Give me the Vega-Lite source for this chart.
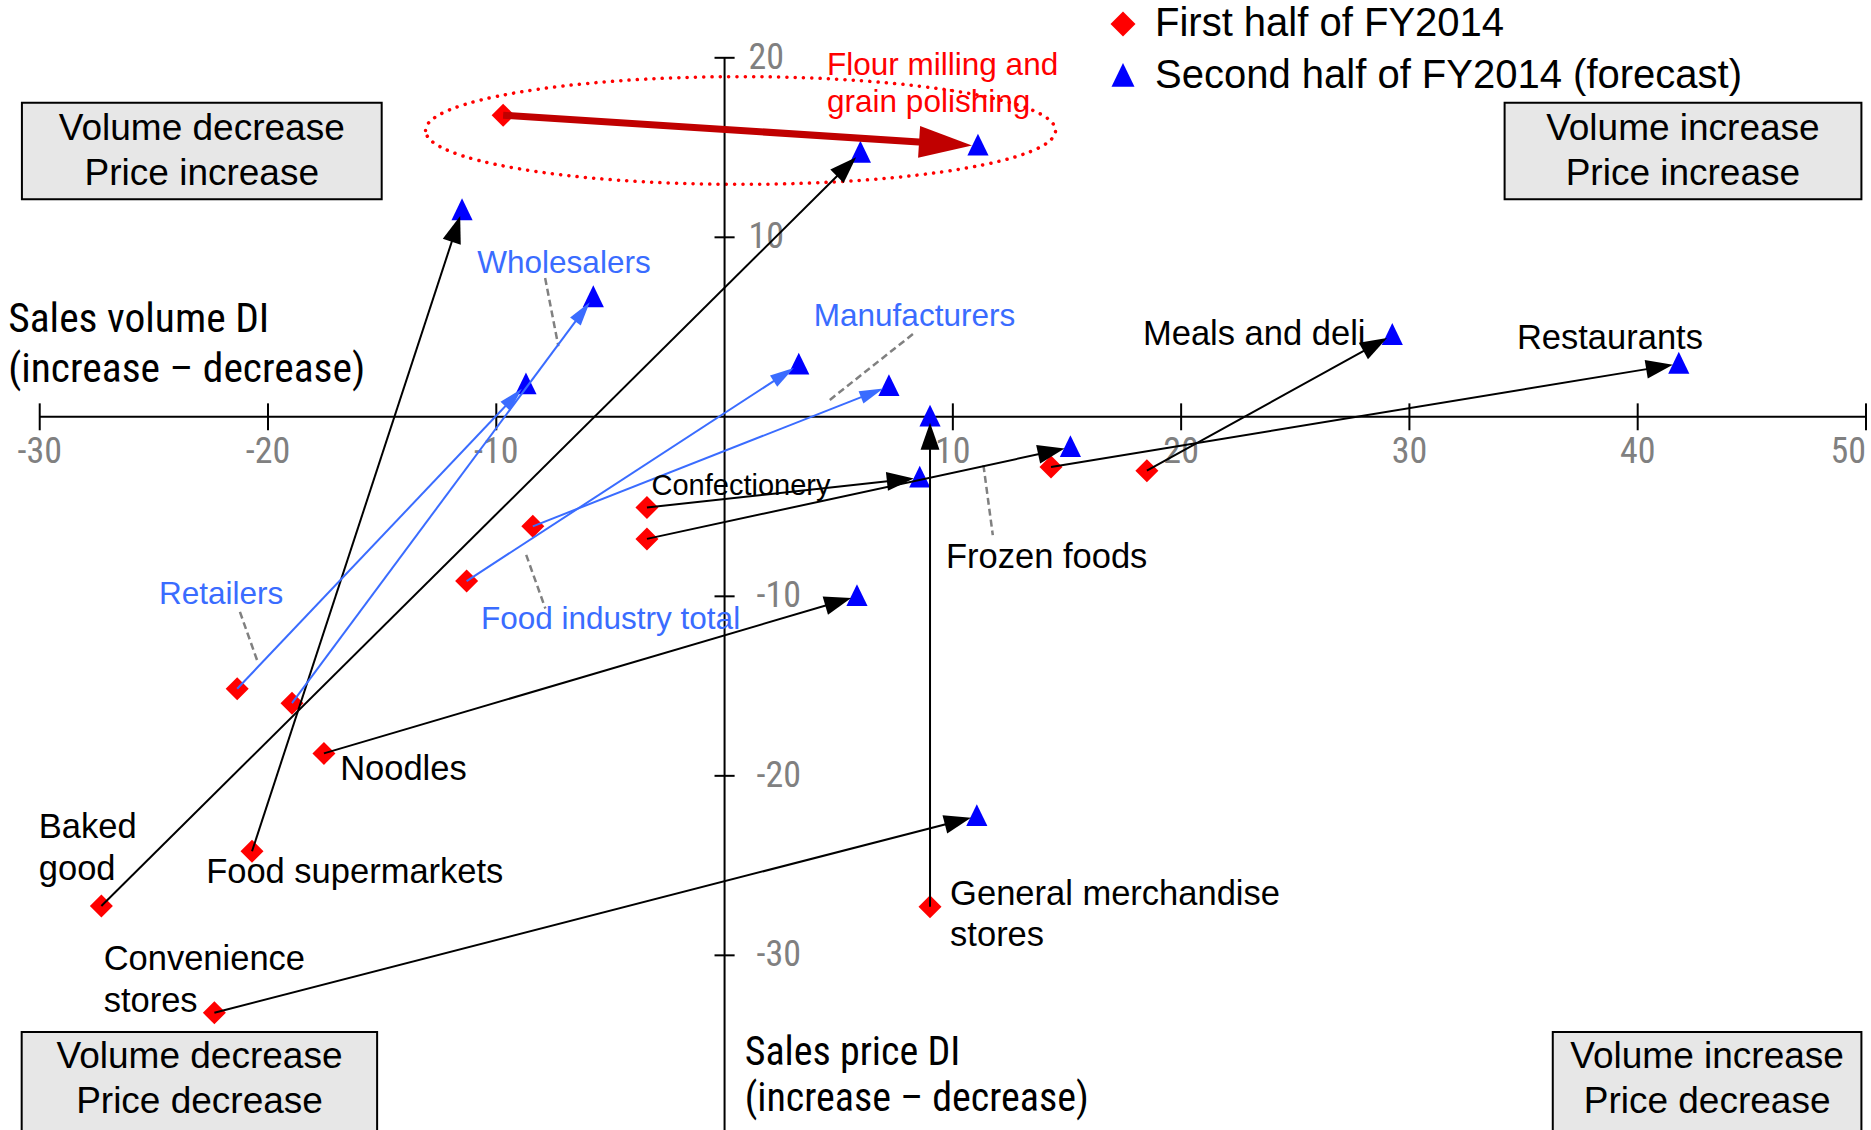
{
  "$schema": "https://vega.github.io/schema/vega-lite/v6.json",
  "width": 1871,
  "height": 1130,
  "autosize": {"type": "none"},
  "padding": 0,
  "background": "#ffffff",
  "config": {"view": {"stroke": null}, "font": "Liberation Sans"},
  "datasets": {
    "points": [
      {"category": "Flour milling and grain polishing", "tier": "focus", "period": "First half of FY2014", "volume": -9.7, "price": 16.8},
      {"category": "Flour milling and grain polishing", "tier": "focus", "period": "Second half of FY2014 (forecast)", "volume": 11.1, "price": 15.1},
      {"category": "Baked good", "tier": "industry", "period": "First half of FY2014", "volume": -27.3, "price": -27.25},
      {"category": "Baked good", "tier": "industry", "period": "Second half of FY2014 (forecast)", "volume": 5.95, "price": 14.7},
      {"category": "Food supermarkets", "tier": "industry", "period": "First half of FY2014", "volume": -20.7, "price": -24.2},
      {"category": "Food supermarkets", "tier": "industry", "period": "Second half of FY2014 (forecast)", "volume": -11.5, "price": 11.5},
      {"category": "Retailers", "tier": "aggregate", "period": "First half of FY2014", "volume": -21.35, "price": -15.15},
      {"category": "Retailers", "tier": "aggregate", "period": "Second half of FY2014 (forecast)", "volume": -8.7, "price": 1.8},
      {"category": "Wholesalers", "tier": "aggregate", "period": "First half of FY2014", "volume": -18.95, "price": -15.95},
      {"category": "Wholesalers", "tier": "aggregate", "period": "Second half of FY2014 (forecast)", "volume": -5.75, "price": 6.65},
      {"category": "Food industry total", "tier": "aggregate", "period": "First half of FY2014", "volume": -11.3, "price": -9.15},
      {"category": "Food industry total", "tier": "aggregate", "period": "Second half of FY2014 (forecast)", "volume": 3.25, "price": 2.9},
      {"category": "Manufacturers", "tier": "aggregate", "period": "First half of FY2014", "volume": -8.4, "price": -6.1},
      {"category": "Manufacturers", "tier": "aggregate", "period": "Second half of FY2014 (forecast)", "volume": 7.2, "price": 1.7},
      {"category": "Confectionery", "tier": "industry", "period": "First half of FY2014", "volume": -3.4, "price": -5.05},
      {"category": "Confectionery", "tier": "industry", "period": "Second half of FY2014 (forecast)", "volume": 8.55, "price": -3.4},
      {"category": "Frozen foods", "tier": "industry", "period": "First half of FY2014", "volume": -3.4, "price": -6.8},
      {"category": "Frozen foods", "tier": "industry", "period": "Second half of FY2014 (forecast)", "volume": 15.15, "price": -1.7},
      {"category": "Noodles", "tier": "industry", "period": "First half of FY2014", "volume": -17.55, "price": -18.75},
      {"category": "Noodles", "tier": "industry", "period": "Second half of FY2014 (forecast)", "volume": 5.8, "price": -10.0},
      {"category": "General merchandise stores", "tier": "industry", "period": "First half of FY2014", "volume": 9.0, "price": -27.3},
      {"category": "General merchandise stores", "tier": "industry", "period": "Second half of FY2014 (forecast)", "volume": 9.0, "price": 0.0},
      {"category": "Convenience stores", "tier": "industry", "period": "First half of FY2014", "volume": -22.35, "price": -33.2},
      {"category": "Convenience stores", "tier": "industry", "period": "Second half of FY2014 (forecast)", "volume": 11.05, "price": -22.25},
      {"category": "Restaurants", "tier": "industry", "period": "First half of FY2014", "volume": 14.3, "price": -2.8},
      {"category": "Restaurants", "tier": "industry", "period": "Second half of FY2014 (forecast)", "volume": 41.8, "price": 2.95},
      {"category": "Meals and deli", "tier": "industry", "period": "First half of FY2014", "volume": 18.5, "price": -3.0},
      {"category": "Meals and deli", "tier": "industry", "period": "Second half of FY2014 (forecast)", "volume": 29.25, "price": 4.55}
    ],
    "labels": [
      {"label": "Flour milling and\ngrain polishing", "tier": "focus", "volume": 4.49, "price": 19.04},
      {"label": "Wholesalers", "tier": "aggregate", "volume": -10.83, "price": 8.0},
      {"label": "Manufacturers", "tier": "aggregate", "volume": 3.91, "price": 5.07},
      {"label": "Retailers", "tier": "aggregate", "volume": -24.78, "price": -10.42},
      {"label": "Food industry total", "tier": "aggregate", "volume": -10.67, "price": -11.81},
      {"label": "Confectionery", "tier": "industry", "volume": -3.2, "price": -4.36},
      {"label": "Frozen foods", "tier": "industry", "volume": 9.7, "price": -8.43},
      {"label": "Meals and deli", "tier": "industry", "volume": 18.33, "price": 4.0},
      {"label": "Restaurants", "tier": "industry", "volume": 34.71, "price": 3.76},
      {"label": "Noodles", "tier": "industry", "volume": -16.84, "price": -20.26},
      {"label": "Baked\ngood", "tier": "industry", "volume": -30.04, "price": -23.47},
      {"label": "Food supermarkets", "tier": "industry", "volume": -22.71, "price": -25.99},
      {"label": "Convenience\nstores", "tier": "industry", "volume": -27.2, "price": -30.82},
      {"label": "General merchandise\nstores", "tier": "industry", "volume": 9.88, "price": -27.17}
    ],
    "titles": [
      {"axis": "volume", "label": "Sales volume DI\n(increase – decrease)", "volume": -31.38, "price": 4.72},
      {"axis": "price", "label": "Sales price DI\n(increase – decrease)", "volume": 0.88, "price": -36.1}
    ],
    "leaders": [
      {"vol_a": -7.86, "price_a": 7.73, "vol_b": -7.28, "price_b": 3.93},
      {"vol_a": 8.25, "price_a": 4.61, "vol_b": 4.49, "price_b": 0.82},
      {"vol_a": 11.34, "price_a": -2.69, "vol_b": 11.75, "price_b": -6.59},
      {"vol_a": -21.23, "price_a": -10.87, "vol_b": -20.45, "price_b": -13.66},
      {"vol_a": -8.69, "price_a": -7.69, "vol_b": -7.85, "price_b": -10.68}
    ],
    "quadrants": [
      {"label": "Volume decrease\nPrice increase", "vol_min": -30.78, "vol_max": -15.02, "price_min": 12.12, "price_max": 17.5, "vol_mid": -22.9, "price_mid": 16.04},
      {"label": "Volume increase\nPrice increase", "vol_min": 34.17, "vol_max": 49.8, "price_min": 12.12, "price_max": 17.5, "vol_mid": 41.98, "price_mid": 16.04},
      {"label": "Volume decrease\nPrice decrease", "vol_min": -30.79, "vol_max": -15.22, "price_min": -41.0, "price_max": -34.27, "vol_mid": -23.0, "price_mid": -35.67},
      {"label": "Volume increase\nPrice decrease", "vol_min": 36.28, "vol_max": 49.8, "price_min": -41.0, "price_max": -34.27, "vol_mid": 43.04, "price_mid": -35.67}
    ],
    "xticks": [
      {"value": -30, "label": "-30"}, {"value": -20, "label": "-20"}, {"value": -10, "label": "-10"},
      {"value": 10, "label": "10"}, {"value": 20, "label": "20"}, {"value": 30, "label": "30"},
      {"value": 40, "label": "40"}, {"value": 50, "label": "50"}
    ],
    "yticks": [
      {"value": 20, "label": "20"}, {"value": 10, "label": "10"}, {"value": -10, "label": "-10"},
      {"value": -20, "label": "-20"}, {"value": -30, "label": "-30"}
    ]
  },
  "layer": [
    {
      "data": {"name": "quadrants"},
      "mark": {"type": "rect", "fill": "#e7e7e7", "stroke": "#000000", "strokeWidth": 2},
      "encoding": {
        "x": {"field": "vol_min", "type": "quantitative", "scale": {"domain": [-31.74, 50.22], "nice": false, "zero": false}, "axis": null},
        "x2": {"field": "vol_max"},
        "y": {"field": "price_min", "type": "quantitative", "scale": {"domain": [-39.73, 23.22], "nice": false, "zero": false}, "axis": null},
        "y2": {"field": "price_max"}
      }
    },
    {
      "data": {"name": "quadrants"},
      "mark": {"type": "text", "fontSize": 37, "lineHeight": 45, "lineBreak": "\n", "align": "center", "baseline": "middle", "color": "#000000"},
      "encoding": {
        "x": {"field": "vol_mid", "type": "quantitative", "scale": {"domain": [-31.74, 50.22], "nice": false, "zero": false}, "axis": null},
        "y": {"field": "price_mid", "type": "quantitative", "scale": {"domain": [-39.73, 23.22], "nice": false, "zero": false}, "axis": null},
        "text": {"field": "label"}
      }
    },
    {
      "data": {"name": "points"},
      "transform": [{"filter": "datum.tier === 'focus'"}],
      "mark": {"type": "point", "shape": "M-1,0A1,0.171,0,1,1,1,0A1,0.171,0,1,1,-1,0Z", "size": 396900, "filled": false, "stroke": "#ff0000", "strokeWidth": 3.5, "strokeDash": [0.1, 8.2], "strokeCap": "round", "opacity": 1},
      "encoding": {
        "x": {"aggregate": "mean", "field": "volume", "type": "quantitative", "scale": {"domain": [-31.74, 50.22], "nice": false, "zero": false}, "axis": null},
        "y": {"aggregate": "mean", "field": "price", "type": "quantitative", "scale": {"domain": [-39.73, 23.22], "nice": false, "zero": false}, "axis": null}
      }
    },
    {
      "data": {"values": [{}]},
      "mark": {"type": "rule", "color": "#000000", "strokeWidth": 2},
      "encoding": {
        "x": {"datum": -30, "type": "quantitative", "scale": {"domain": [-31.74, 50.22], "nice": false, "zero": false}, "axis": null},
        "x2": {"datum": 50},
        "y": {"datum": 0, "type": "quantitative", "scale": {"domain": [-39.73, 23.22], "nice": false, "zero": false}, "axis": null}
      }
    },
    {
      "data": {"values": [{}]},
      "mark": {"type": "rule", "color": "#000000", "strokeWidth": 2},
      "encoding": {
        "x": {"datum": 0, "type": "quantitative", "scale": {"domain": [-31.74, 50.22], "nice": false, "zero": false}, "axis": null},
        "y": {"datum": 20, "type": "quantitative", "scale": {"domain": [-39.73, 23.22], "nice": false, "zero": false}, "axis": null},
        "y2": {"datum": -41}
      }
    },
    {
      "data": {"name": "xticks"},
      "mark": {"type": "rule", "color": "#000000", "strokeWidth": 2},
      "encoding": {
        "x": {"field": "value", "type": "quantitative", "scale": {"domain": [-31.74, 50.22], "nice": false, "zero": false}, "axis": null},
        "y": {"datum": 0.75, "type": "quantitative", "scale": {"domain": [-39.73, 23.22], "nice": false, "zero": false}, "axis": null},
        "y2": {"datum": -0.75}
      }
    },
    {
      "data": {"name": "yticks"},
      "mark": {"type": "rule", "color": "#000000", "strokeWidth": 2},
      "encoding": {
        "x": {"datum": -0.44, "type": "quantitative", "scale": {"domain": [-31.74, 50.22], "nice": false, "zero": false}, "axis": null},
        "x2": {"datum": 0.44},
        "y": {"field": "value", "type": "quantitative", "scale": {"domain": [-39.73, 23.22], "nice": false, "zero": false}, "axis": null}
      }
    },
    {
      "data": {"name": "xticks"},
      "transform": [{"filter": "datum.value < 50"}],
      "mark": {"type": "text", "font": "Liberation Sans Narrow, Arial Narrow, Roboto Condensed, Noto Sans Condensed, DejaVu Sans Condensed, Liberation Sans, sans-serif", "fontSize": 36, "color": "#808080", "align": "center", "baseline": "alphabetic", "dy": 46},
      "encoding": {
        "x": {"field": "value", "type": "quantitative", "scale": {"domain": [-31.74, 50.22], "nice": false, "zero": false}, "axis": null},
        "y": {"datum": 0, "type": "quantitative", "scale": {"domain": [-39.73, 23.22], "nice": false, "zero": false}, "axis": null},
        "text": {"field": "label"}
      }
    },
    {
      "data": {"name": "xticks"},
      "transform": [{"filter": "datum.value === 50"}],
      "mark": {"type": "text", "font": "Liberation Sans Narrow, Arial Narrow, Roboto Condensed, Noto Sans Condensed, DejaVu Sans Condensed, Liberation Sans, sans-serif", "fontSize": 36, "color": "#808080", "align": "right", "baseline": "alphabetic", "dy": 46},
      "encoding": {
        "x": {"field": "value", "type": "quantitative", "scale": {"domain": [-31.74, 50.22], "nice": false, "zero": false}, "axis": null},
        "y": {"datum": 0, "type": "quantitative", "scale": {"domain": [-39.73, 23.22], "nice": false, "zero": false}, "axis": null},
        "text": {"field": "label"}
      }
    },
    {
      "data": {"name": "yticks"},
      "transform": [{"filter": "datum.value > 0"}],
      "mark": {"type": "text", "font": "Liberation Sans Narrow, Arial Narrow, Roboto Condensed, Noto Sans Condensed, DejaVu Sans Condensed, Liberation Sans, sans-serif", "fontSize": 36, "color": "#808080", "align": "left", "baseline": "middle", "dx": 24},
      "encoding": {
        "x": {"datum": 0, "type": "quantitative", "scale": {"domain": [-31.74, 50.22], "nice": false, "zero": false}, "axis": null},
        "y": {"field": "value", "type": "quantitative", "scale": {"domain": [-39.73, 23.22], "nice": false, "zero": false}, "axis": null},
        "text": {"field": "label"}
      }
    },
    {
      "data": {"name": "yticks"},
      "transform": [{"filter": "datum.value < 0"}],
      "mark": {"type": "text", "font": "Liberation Sans Narrow, Arial Narrow, Roboto Condensed, Noto Sans Condensed, DejaVu Sans Condensed, Liberation Sans, sans-serif", "fontSize": 36, "color": "#808080", "align": "left", "baseline": "middle", "dx": 32},
      "encoding": {
        "x": {"datum": 0, "type": "quantitative", "scale": {"domain": [-31.74, 50.22], "nice": false, "zero": false}, "axis": null},
        "y": {"field": "value", "type": "quantitative", "scale": {"domain": [-39.73, 23.22], "nice": false, "zero": false}, "axis": null},
        "text": {"field": "label"}
      }
    },
    {
      "data": {"name": "leaders"},
      "mark": {"type": "rule", "color": "#808080", "strokeWidth": 2.5, "strokeDash": [7, 4]},
      "encoding": {
        "x": {"field": "vol_a", "type": "quantitative", "scale": {"domain": [-31.74, 50.22], "nice": false, "zero": false}, "axis": null},
        "x2": {"field": "vol_b"},
        "y": {"field": "price_a", "type": "quantitative", "scale": {"domain": [-39.73, 23.22], "nice": false, "zero": false}, "axis": null},
        "y2": {"field": "price_b"}
      }
    },
    {
      "data": {"name": "points"},
      "mark": {"type": "point", "filled": true, "opacity": 1, "size": 529, "strokeWidth": 0},
      "encoding": {
        "x": {"field": "volume", "type": "quantitative", "scale": {"domain": [-31.74, 50.22], "nice": false, "zero": false}, "axis": null},
        "y": {"field": "price", "type": "quantitative", "scale": {"domain": [-39.73, 23.22], "nice": false, "zero": false}, "axis": null},
        "color": {
          "field": "period", "type": "nominal",
          "scale": {"domain": ["First half of FY2014", "Second half of FY2014 (forecast)"], "range": ["#ff0000", "#0000ff"]},
          "legend": {"orient": "none", "legendX": 1103, "legendY": 4, "title": null, "padding": 0, "labelFont": "Liberation Sans", "labelFontSize": 40, "labelColor": "#000000", "labelLimit": 1000, "labelOffset": 12, "rowPadding": 12, "symbolSize": 625, "symbolStrokeWidth": 0, "symbolOpacity": 1}
        },
        "shape": {
          "field": "period", "type": "nominal",
          "scale": {"domain": ["First half of FY2014", "Second half of FY2014 (forecast)"], "range": ["diamond", "M0,-1.05L0.92,0.85L-0.92,0.85Z"]},
          "legend": {"orient": "none", "legendX": 1103, "legendY": 4, "title": null, "padding": 0, "labelFont": "Liberation Sans", "labelFontSize": 40, "labelColor": "#000000", "labelLimit": 1000, "labelOffset": 12, "rowPadding": 12, "symbolSize": 625, "symbolStrokeWidth": 0, "symbolOpacity": 1}
        }
      }
    },
    {
      "data": {"name": "points"},
      "transform": [
        {"window": [{"op": "lead", "field": "volume", "as": "volume2"}, {"op": "lead", "field": "price", "as": "price2"}], "groupby": ["category"], "sort": [{"field": "period", "order": "ascending"}]},
        {"filter": "isValid(datum.volume2)"},
        {"calculate": "(datum.volume2 - datum.volume) * 22.83", "as": "dxp"},
        {"calculate": "(datum.price - datum.price2) * 17.95", "as": "dyp"},
        {"calculate": "sqrt(datum.dxp * datum.dxp + datum.dyp * datum.dyp)", "as": "len"},
        {"calculate": "atan2(datum.dyp, datum.dxp) * 180 / PI", "as": "heading"},
        {"calculate": "datum.volume2 - 6 * datum.dxp / datum.len / 22.83", "as": "tip_volume"},
        {"calculate": "datum.price2 + 6 * datum.dyp / datum.len / 17.95", "as": "tip_price"},
        {"calculate": "datum.tier === 'focus' ? 36 : 14", "as": "back"},
        {"calculate": "datum.volume2 - datum.back * datum.dxp / datum.len / 22.83", "as": "end_volume"},
        {"calculate": "datum.price2 + datum.back * datum.dyp / datum.len / 17.95", "as": "end_price"}
      ],
      "layer": [
        {
          "transform": [{"filter": "datum.tier === 'industry'"}],
          "mark": {"type": "rule", "color": "#000000", "strokeWidth": 2},
          "encoding": {
            "x": {"field": "volume", "type": "quantitative", "scale": {"domain": [-31.74, 50.22], "nice": false, "zero": false}, "axis": null},
            "x2": {"field": "end_volume"},
            "y": {"field": "price", "type": "quantitative", "scale": {"domain": [-39.73, 23.22], "nice": false, "zero": false}, "axis": null},
            "y2": {"field": "end_price"}
          }
        },
        {
          "transform": [{"filter": "datum.tier === 'aggregate'"}],
          "mark": {"type": "rule", "color": "#3a6cff", "strokeWidth": 2},
          "encoding": {
            "x": {"field": "volume", "type": "quantitative", "scale": {"domain": [-31.74, 50.22], "nice": false, "zero": false}, "axis": null},
            "x2": {"field": "end_volume"},
            "y": {"field": "price", "type": "quantitative", "scale": {"domain": [-39.73, 23.22], "nice": false, "zero": false}, "axis": null},
            "y2": {"field": "end_price"}
          }
        },
        {
          "transform": [{"filter": "datum.tier === 'focus'"}],
          "mark": {"type": "rule", "color": "#c00000", "strokeWidth": 7},
          "encoding": {
            "x": {"field": "volume", "type": "quantitative", "scale": {"domain": [-31.74, 50.22], "nice": false, "zero": false}, "axis": null},
            "x2": {"field": "end_volume"},
            "y": {"field": "price", "type": "quantitative", "scale": {"domain": [-39.73, 23.22], "nice": false, "zero": false}, "axis": null},
            "y2": {"field": "end_price"}
          }
        },
        {
          "transform": [{"filter": "datum.tier === 'industry'"}],
          "mark": {"type": "point", "shape": "M0,0L-2,-0.7L-2,0.7Z", "size": 729, "filled": true, "color": "#000000", "opacity": 1, "strokeWidth": 0},
          "encoding": {
            "x": {"field": "tip_volume", "type": "quantitative", "scale": {"domain": [-31.74, 50.22], "nice": false, "zero": false}, "axis": null},
            "y": {"field": "tip_price", "type": "quantitative", "scale": {"domain": [-39.73, 23.22], "nice": false, "zero": false}, "axis": null},
            "angle": {"field": "heading", "type": "quantitative", "scale": null}
          }
        },
        {
          "transform": [{"filter": "datum.tier === 'aggregate'"}],
          "mark": {"type": "point", "shape": "M0,0L-2,-0.55L-2,0.55Z", "size": 576, "filled": true, "color": "#3a6cff", "opacity": 1, "strokeWidth": 0},
          "encoding": {
            "x": {"field": "tip_volume", "type": "quantitative", "scale": {"domain": [-31.74, 50.22], "nice": false, "zero": false}, "axis": null},
            "y": {"field": "tip_price", "type": "quantitative", "scale": {"domain": [-39.73, 23.22], "nice": false, "zero": false}, "axis": null},
            "angle": {"field": "heading", "type": "quantitative", "scale": null}
          }
        },
        {
          "transform": [{"filter": "datum.tier === 'focus'"}],
          "mark": {"type": "point", "shape": "M0,0L-2,-0.6L-2,0.6Z", "size": 2809, "filled": true, "color": "#c00000", "opacity": 1, "strokeWidth": 0},
          "encoding": {
            "x": {"field": "tip_volume", "type": "quantitative", "scale": {"domain": [-31.74, 50.22], "nice": false, "zero": false}, "axis": null},
            "y": {"field": "tip_price", "type": "quantitative", "scale": {"domain": [-39.73, 23.22], "nice": false, "zero": false}, "axis": null},
            "angle": {"field": "heading", "type": "quantitative", "scale": null}
          }
        }
      ]
    },
    {
      "data": {"name": "labels"},
      "transform": [{"filter": "datum.tier === 'industry' && datum.label !== 'Confectionery'"}],
      "mark": {"type": "text", "fontSize": 34.5, "lineHeight": 41.7, "lineBreak": "\n", "align": "left", "baseline": "alphabetic", "color": "#000000"},
      "encoding": {
        "x": {"field": "volume", "type": "quantitative", "scale": {"domain": [-31.74, 50.22], "nice": false, "zero": false}, "axis": null},
        "y": {"field": "price", "type": "quantitative", "scale": {"domain": [-39.73, 23.22], "nice": false, "zero": false}, "axis": null},
        "text": {"field": "label"}
      }
    },
    {
      "data": {"name": "labels"},
      "transform": [{"filter": "datum.label === 'Confectionery'"}],
      "mark": {"type": "text", "fontSize": 29, "align": "left", "baseline": "alphabetic", "color": "#000000"},
      "encoding": {
        "x": {"field": "volume", "type": "quantitative", "scale": {"domain": [-31.74, 50.22], "nice": false, "zero": false}, "axis": null},
        "y": {"field": "price", "type": "quantitative", "scale": {"domain": [-39.73, 23.22], "nice": false, "zero": false}, "axis": null},
        "text": {"field": "label"}
      }
    },
    {
      "data": {"name": "labels"},
      "transform": [{"filter": "datum.tier === 'aggregate'"}],
      "mark": {"type": "text", "fontSize": 31.5, "align": "left", "baseline": "alphabetic", "color": "#3a6cff"},
      "encoding": {
        "x": {"field": "volume", "type": "quantitative", "scale": {"domain": [-31.74, 50.22], "nice": false, "zero": false}, "axis": null},
        "y": {"field": "price", "type": "quantitative", "scale": {"domain": [-39.73, 23.22], "nice": false, "zero": false}, "axis": null},
        "text": {"field": "label"}
      }
    },
    {
      "data": {"name": "labels"},
      "transform": [{"filter": "datum.tier === 'focus'"}],
      "mark": {"type": "text", "fontSize": 31.5, "lineHeight": 36.7, "lineBreak": "\n", "align": "left", "baseline": "alphabetic", "color": "#ff0000"},
      "encoding": {
        "x": {"field": "volume", "type": "quantitative", "scale": {"domain": [-31.74, 50.22], "nice": false, "zero": false}, "axis": null},
        "y": {"field": "price", "type": "quantitative", "scale": {"domain": [-39.73, 23.22], "nice": false, "zero": false}, "axis": null},
        "text": {"field": "label"}
      }
    },
    {
      "data": {"name": "titles"},
      "transform": [{"filter": "datum.axis === 'volume'"}],
      "mark": {"type": "text", "font": "Liberation Sans Narrow, Arial Narrow, Roboto Condensed, Noto Sans Condensed, DejaVu Sans Condensed, Liberation Sans, sans-serif", "fontSize": 41.5, "lineHeight": 50, "lineBreak": "\n", "align": "left", "baseline": "alphabetic", "color": "#000000"},
      "encoding": {
        "x": {"field": "volume", "type": "quantitative", "scale": {"domain": [-31.74, 50.22], "nice": false, "zero": false}, "axis": null},
        "y": {"field": "price", "type": "quantitative", "scale": {"domain": [-39.73, 23.22], "nice": false, "zero": false}, "axis": null},
        "text": {"field": "label"}
      }
    },
    {
      "data": {"name": "titles"},
      "transform": [{"filter": "datum.axis === 'price'"}],
      "mark": {"type": "text", "font": "Liberation Sans Narrow, Arial Narrow, Roboto Condensed, Noto Sans Condensed, DejaVu Sans Condensed, Liberation Sans, sans-serif", "fontSize": 40, "lineHeight": 46, "lineBreak": "\n", "align": "left", "baseline": "alphabetic", "color": "#000000"},
      "encoding": {
        "x": {"field": "volume", "type": "quantitative", "scale": {"domain": [-31.74, 50.22], "nice": false, "zero": false}, "axis": null},
        "y": {"field": "price", "type": "quantitative", "scale": {"domain": [-39.73, 23.22], "nice": false, "zero": false}, "axis": null},
        "text": {"field": "label"}
      }
    }
  ]
}
